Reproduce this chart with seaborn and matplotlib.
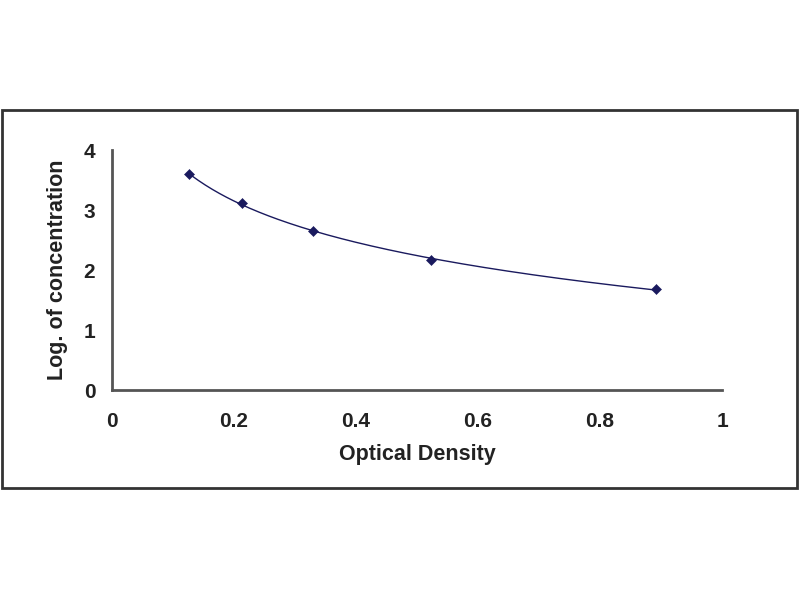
import matplotlib
matplotlib.use("Agg")
import matplotlib.pyplot as plt
import matplotlib.patches as mpatches
import numpy as np
import pandas as pd
import seaborn as sns

# Standard curve points
optical_density = [0.126, 0.213, 0.330, 0.523, 0.891]
log_concentration = [3.60, 3.11, 2.65, 2.17, 1.68]

x_ticks = [0, 0.2, 0.4, 0.6, 0.8, 1]
x_tick_labels = ["0", "0.2", "0.4", "0.6", "0.8", "1"]
y_ticks = [0, 1, 2, 3, 4]

sns.set_style("white")
plt.rcParams["font.family"] = ["Liberation Sans", "DejaVu Sans"]

points = pd.DataFrame({"od": optical_density, "logc": log_concentration})

# logarithmic trend line fitted to the points
coef = np.polyfit(np.log(points["od"]), points["logc"], 1)
xs = np.linspace(points["od"].min(), points["od"].max(), 200)
fit = pd.DataFrame({"od": xs, "logc": np.polyval(coef, np.log(xs))})

fig = plt.figure(figsize=(8, 6), dpi=100)
ax = fig.add_axes([0.14, 0.35, 0.7625, 0.40])

navy = "#1a1a5e"
sns.lineplot(data=fit, x="od", y="logc", ax=ax, color=navy, linewidth=1.0)
sns.scatterplot(data=points, x="od", y="logc", ax=ax, marker="D", s=26,
                color=navy, edgecolor=navy, zorder=3)

ax.set_xlim(0, 1)
ax.set_ylim(0, 4)
ax.set_xticks(x_ticks)
ax.set_xticklabels(x_tick_labels)
ax.set_yticks(y_ticks)
ax.tick_params(direction="in", length=6, width=1.5, color="#555555",
               labelsize=15)
ax.tick_params(axis="x", pad=16)
ax.tick_params(axis="y", pad=12)
for lab in ax.get_xticklabels() + ax.get_yticklabels():
    lab.set_fontweight("bold")
    lab.set_color("#222222")

sns.despine(ax=ax)
for side in ("left", "bottom"):
    ax.spines[side].set_color("#555555")
    ax.spines[side].set_linewidth(2)

ax.set_xlabel("Optical Density", fontsize=15.5, fontweight="bold",
              color="#222222", labelpad=9)
ax.set_ylabel("Log. of concentration", fontsize=15.5, fontweight="bold",
              color="#222222", labelpad=11)

# outer frame around the chart area
frame = mpatches.Rectangle((0.003, 0.187), 0.993, 0.63, transform=fig.transFigure,
                           fill=False, edgecolor="#333333", linewidth=2)
fig.patches.append(frame)

fig.savefig("out.png", dpi=100, facecolor="white")
